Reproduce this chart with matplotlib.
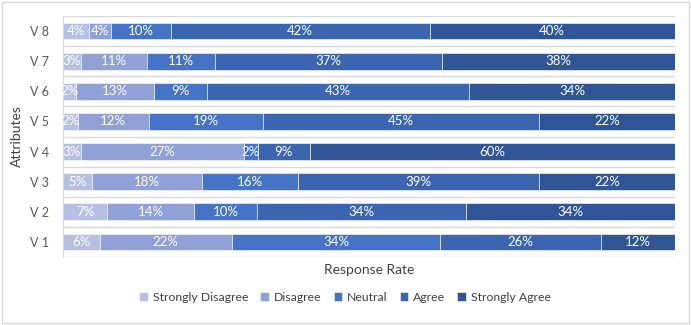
import matplotlib.pyplot as plt
from matplotlib.patches import Rectangle
import numpy as np

plt.rcParams["font.family"] = ["Lato", "DejaVu Sans"]

# attribute order bottom -> top
attributes = ["V 1", "V 2", "V 3", "V 4", "V 5", "V 6", "V 7", "V 8"]
series = ["Strongly Disagree", "Disagree", "Neutral", "Agree", "Strongly Agree"]

# response shares (%) per attribute
strongly_disagree = [6.0, 7.2, 4.7, 2.9, 2.4, 2.2, 2.9, 4.2]
disagree = [21.6, 14.2, 18.0, 26.6, 11.6, 12.6, 10.9, 3.6]
neutral = [34.0, 10.3, 15.7, 2.3, 18.6, 8.7, 11.0, 9.8]
agree = [26.3, 34.2, 39.4, 8.6, 45.2, 42.9, 37.2, 42.3]
strongly_agree = [12.1, 34.1, 22.2, 59.6, 22.2, 33.6, 38.0, 40.1]

colors = ["#b6c0e3", "#8fa1d7", "#4573c5", "#3c65b1", "#2f5597"]


def main():
    fig = plt.figure(figsize=(6.91, 3.25), dpi=100)
    fig.patches.append(Rectangle((0.003, 0.006), 0.994, 0.988, transform=fig.transFigure,
                                 fill=False, edgecolor="#d9d9d9", linewidth=1.0))
    ax = fig.add_axes([63 / 691, 1 - 257 / 325, 612 / 691, 241 / 325])

    data = [strongly_disagree, disagree, neutral, agree, strongly_agree]
    y = np.arange(len(attributes))
    left = np.zeros(len(attributes))
    for vals, name, col in zip(data, series, colors):
        vals = np.array(vals)
        ax.barh(y, vals, left=left, height=0.56, color=col, label=name,
                edgecolor="white", linewidth=0.4)
        for yi, (l, v) in enumerate(zip(left, vals)):
            ax.text(l + v / 2, yi, f"{v:.0f}%", ha="center", va="center",
                    color="white", fontsize=9.5)
        left += vals

    ax.set_xlim(0, 100)
    ax.set_ylim(-0.5, len(attributes) - 0.5)
    ax.set_yticks(y)
    ax.set_yticklabels(attributes, fontsize=9, color="#595959")
    ax.set_xticks([])
    ax.tick_params(axis="y", length=0, pad=10)
    for yy in np.arange(-0.5, len(attributes), 1.0):
        ax.axhline(yy, color="#d9d9d9", linewidth=1.0, zorder=0)
    for s in ["top", "right", "bottom"]:
        ax.spines[s].set_visible(False)
    ax.spines["left"].set_color("#d9d9d9")

    ax.set_ylabel("Attributes", fontsize=10, color="#404040", labelpad=5)
    ax.set_xlabel("Response Rate", fontsize=10, color="#404040", labelpad=5)

    ax.legend(loc="center", bbox_to_anchor=(0.5 - 24 / 612, -0.166), ncol=5,
              frameon=False, fontsize=8.8, handlelength=0.7, handleheight=0.7,
              handletextpad=0.4, columnspacing=1.0, labelcolor="#404040")

    fig.savefig("out.png", dpi=100)
    plt.close(fig)


if __name__ == "__main__":
    main()
